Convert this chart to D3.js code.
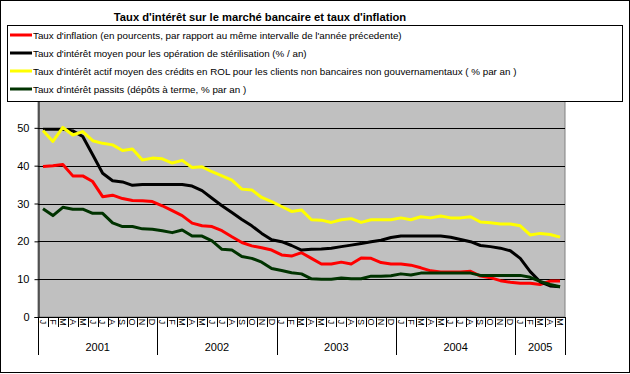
<!DOCTYPE html>
<html>
<head>
<meta charset="utf-8">
<script src="https://cdn.jsdelivr.net/npm/d3@7"></script>
<style>
  body { margin: 0; background: #fff; }
  text { font-family: "Liberation Sans", Arial, sans-serif; }
</style>
</head>
<body>
<script>
var w = 630;
var h = 374;

var months = ["J","F","M","A","M","J","J","A","S","O","N","D"];
var years = ["2001","2002","2003","2004","2005"];
var monthsPerYear = [12, 12, 12, 12, 5];

var seriesNames = [
  "Taux d'inflation (en pourcents, par rapport au même intervalle de l'année précedente)",
  "Taux d'intérêt moyen pour les opération de stérilisation (% / an)",
  "Taux d'intérêt actif moyen des crédits en ROL pour les clients non bancaires non gouvernamentaux ( % par an )",
  "Taux d'intérêt passits (dépôts à terme, % par an )"
];
var seriesColors = ["#ff0000", "#000000", "#ffff00", "#003300"];

var inflation = [39.8, 40.0, 40.3, 37.3, 37.3, 35.8, 31.8, 32.2, 31.3, 30.8, 30.7, 30.5,
  29.4, 28.1, 26.8, 24.8, 24.1, 23.9, 22.8, 21.2, 19.7, 18.8, 18.3, 17.7,
  16.4, 16.1, 17.0, 15.5, 14.0, 14.0, 14.5, 14.0, 15.6, 15.5, 14.4, 14.0,
  14.0, 13.7, 13.0, 12.2, 11.9, 11.9, 11.9, 12.1, 10.8, 10.4, 9.6, 9.2,
  8.9, 8.9, 8.6, 9.5, 9.5];

var sterilisation = [49.6, 49.6, 49.6, 49.2, 47.7, 42.9, 38.0, 36.0, 35.7, 34.8, 35.0, 35.0,
  35.0, 35.0, 35.0, 34.6, 33.4, 31.4, 29.4, 27.6, 25.8, 24.1, 22.1, 20.4,
  19.9, 18.9, 17.7, 17.9, 18.0, 18.2, 18.6, 19.0, 19.4, 19.9, 20.3, 21.0,
  21.4, 21.4, 21.4, 21.4, 21.4, 21.1, 20.5, 19.9, 18.9, 18.6, 18.2, 17.5,
  15.5, 12.0, 9.3, 8.2, 8.0];

var activeRate = [49.3, 46.4, 50.1, 48.1, 49.0, 46.6, 45.9, 45.5, 44.0, 44.4, 41.5, 42.0,
  41.8, 40.7, 41.4, 39.5, 39.7, 38.4, 37.3, 36.2, 33.8, 33.6, 31.6, 30.5,
  29.2, 27.9, 28.3, 25.7, 25.6, 25.0, 25.7, 26.0, 25.0, 25.7, 25.7, 25.7,
  26.2, 25.7, 26.5, 26.2, 26.7, 26.2, 26.2, 26.5, 25.1, 24.9, 24.6, 24.6,
  24.1, 21.7, 22.1, 21.8, 21.1];

var passiveRate = [28.6, 26.8, 29.0, 28.5, 28.5, 27.4, 27.4, 24.9, 23.9, 23.9, 23.3, 23.2,
  22.8, 22.3, 23.0, 21.4, 21.4, 20.1, 17.9, 17.7, 16.0, 15.5, 14.5, 12.8,
  12.3, 11.7, 11.4, 10.1, 10.0, 10.0, 10.3, 10.1, 10.1, 10.8, 10.8, 10.9,
  11.4, 11.1, 11.6, 11.6, 11.6, 11.6, 11.6, 11.6, 11.0, 11.0, 11.0, 11.0,
  11.0, 10.5, 9.4, 8.6, 8.0];

var yTicks = [0, 10, 20, 30, 40, 50, 60];

// category list: one entry per month
var categories = [];
years.forEach(function(yr, yi) {
  for (var m = 0; m < monthsPerYear[yi]; m++) {
    categories.push({ year: yr, month: months[m] });
  }
});

var allSeries = [inflation, sterilisation, activeRate, passiveRate];

var xScale = d3.scaleBand()
  .domain(d3.range(categories.length))
  .range([38, 565]);

var yScale = d3.scaleLinear()
  .domain([0, 60])
  .range([317, 90]);

var svg = d3.select("body")
  .append("svg")
  .attr("width", w)
  .attr("height", h);

// outer border
svg.append("rect")
  .attr("x", 0.5).attr("y", 0.5)
  .attr("width", 629).attr("height", 372)
  .attr("fill", "#fff")
  .attr("stroke", "#000");

// plot area
svg.append("rect")
  .attr("x", xScale.range()[0])
  .attr("y", yScale(60))
  .attr("width", xScale.range()[1] - xScale.range()[0])
  .attr("height", yScale(0) - yScale(60))
  .attr("fill", "#c0c0c0")
  .attr("stroke", "#808080");

// gridlines
svg.append("g")
  .selectAll("line")
  .data(yTicks.slice(1))
  .enter()
  .append("line")
  .attr("x1", xScale.range()[0])
  .attr("x2", xScale.range()[1])
  .attr("y1", function(d) { return Math.round(yScale(d)) + 0.5; })
  .attr("y2", function(d) { return Math.round(yScale(d)) + 0.5; })
  .attr("stroke", "#000");

// y axis
var yAxis = svg.append("g")
  .attr("transform", "translate(38.5,0)")
  .call(d3.axisLeft(yScale).tickValues(yTicks).tickSize(4).tickPadding(5));
yAxis.select(".domain").attr("stroke", "#000");
yAxis.selectAll("text")
  .attr("font-size", "11px")
  .attr("fill", "#000")
  .attr("font-family", "Liberation Sans, Arial, sans-serif");

// lines
var line = d3.line()
  .x(function(d, i) { return xScale(i) + xScale.bandwidth() / 2; })
  .y(function(d) { return yScale(d); });

svg.append("g")
  .selectAll("path")
  .data(allSeries)
  .enter()
  .append("path")
  .attr("d", line)
  .attr("fill", "none")
  .attr("stroke", function(d, i) { return seriesColors[i]; })
  .attr("stroke-width", 3)
  .attr("stroke-linejoin", "round");

// x axis line
svg.append("line")
  .attr("x1", xScale.range()[0]).attr("x2", xScale.range()[1])
  .attr("y1", 317.5).attr("y2", 317.5)
  .attr("stroke", "#000");

// month separators
svg.append("g")
  .selectAll("line")
  .data(d3.range(categories.length + 1))
  .enter()
  .append("line")
  .attr("x1", function(i) { return Math.round(xScale.range()[0] + i * xScale.step()) + 0.5; })
  .attr("x2", function(i) { return Math.round(xScale.range()[0] + i * xScale.step()) + 0.5; })
  .attr("y1", 317)
  .attr("y2", 327)
  .attr("stroke", "#000");

// month labels (rotated)
svg.append("g")
  .selectAll("text")
  .data(categories)
  .enter()
  .append("text")
  .text(function(d) { return d.month; })
  .attr("transform", function(d, i) {
    return "translate(" + (xScale(i) + xScale.bandwidth() / 2) + ",322) rotate(90)";
  })
  .attr("text-anchor", "middle")
  .attr("dy", "0.35em")
  .attr("font-size", "9px")
  .attr("fill", "#000");

// year separators and labels
var yearStart = [0];
monthsPerYear.forEach(function(n, i) { yearStart.push(yearStart[i] + n); });

svg.append("g")
  .selectAll("line")
  .data(yearStart)
  .enter()
  .append("line")
  .attr("x1", function(i) { return Math.round(xScale.range()[0] + i * xScale.step()) + 0.5; })
  .attr("x2", function(i) { return Math.round(xScale.range()[0] + i * xScale.step()) + 0.5; })
  .attr("y1", 317)
  .attr("y2", 355)
  .attr("stroke", "#000");

svg.append("g")
  .selectAll("text")
  .data(years)
  .enter()
  .append("text")
  .text(function(d) { return d; })
  .attr("x", function(d, i) {
    return xScale.range()[0] + (yearStart[i] + monthsPerYear[i] / 2) * xScale.step();
  })
  .attr("y", 351)
  .attr("text-anchor", "middle")
  .attr("font-size", "11px")
  .attr("fill", "#000");

// legend
var legend = svg.append("g");
legend.append("rect")
  .attr("x", 7.5).attr("y", 25.5)
  .attr("width", 615).attr("height", 76)
  .attr("fill", "#fff")
  .attr("stroke", "#000");

var legendY = [35, 53, 71, 89];
var legendItems = legend.selectAll("g")
  .data(seriesNames)
  .enter()
  .append("g")
  .attr("transform", function(d, i) { return "translate(0," + legendY[i] + ")"; });

legendItems.append("line")
  .attr("x1", 10).attr("x2", 32)
  .attr("y1", 0).attr("y2", 0)
  .attr("stroke", function(d, i) { return seriesColors[i]; })
  .attr("stroke-width", 3);

legendItems.append("text")
  .text(function(d) { return d; })
  .attr("x", 33)
  .attr("y", 4)
  .attr("font-size", "9.8px")
  .attr("fill", "#000");

// title
svg.append("text")
  .text("Taux d'intérêt sur le marché bancaire et taux d'inflation")
  .attr("x", 260)
  .attr("y", 21)
  .attr("text-anchor", "middle")
  .attr("font-size", "11.2px")
  .attr("font-weight", "bold")
  .attr("fill", "#000");
</script>
</body>
</html>
